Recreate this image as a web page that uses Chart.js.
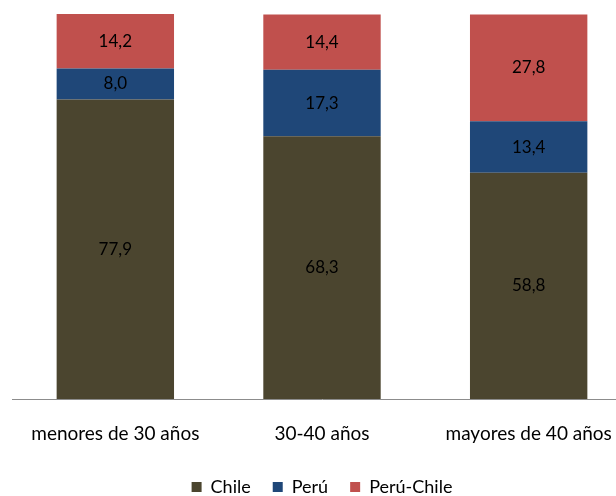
<!DOCTYPE html>
<html lang="es">
  <head>
    <meta charset="UTF-8" />
    <title>Chile / Perú por edad</title>
    <script src="https://cdn.jsdelivr.net/npm/chart.js"></script>
    <style>
      html, body { margin: 0; padding: 0; background: #fff; overflow: hidden; }
      #wrap { width: 632px; height: 496px; }
    </style>
  </head>
  <body>
    <div id="wrap"><canvas id="chart"></canvas></div>
    <script>
      const categories = ["menores de 30 años", "30-40 años", "mayores de 40 años"];
      const chile = [77.9, 68.3, 58.8];
      const peru = [8.0, 17.3, 13.4];
      const peruChile = [14.2, 14.4, 27.8];

      // draws the value in the middle of each bar segment
      const valueLabels = {
        id: "valueLabels",
        afterDatasetsDraw(chart) {
          const ctx = chart.ctx;
          ctx.save();
          ctx.font = "17px Lato";
          ctx.fillStyle = "#000";
          ctx.textAlign = "center";
          ctx.textBaseline = "middle";
          chart.data.datasets.forEach((ds, i) => {
            chart.getDatasetMeta(i).data.forEach((bar, j) => {
              const y = (bar.y + bar.base) / 2;
              ctx.fillText(ds.data[j].toFixed(1).replace(".", ","), bar.x, y);
            });
          });
          ctx.restore();
        }
      };

      new Chart(document.getElementById("chart"), {
        type: "bar",
        data: {
          labels: categories,
          datasets: [
            { label: "Chile", data: chile, backgroundColor: "#4B452F" },
            { label: "Perú", data: peru, backgroundColor: "#1F4778" },
            { label: "Perú-Chile", data: peruChile, backgroundColor: "#C0504D" }
          ]
        },
        options: {
          responsive: true,
          maintainAspectRatio: false,
          animation: false,
          barPercentage: 0.568,
          categoryPercentage: 1,
          layout: { padding: { left: 12, top: 14, bottom: -10, right: 0 } },
          plugins: {
            tooltip: { enabled: false },
            legend: {
              position: "bottom",
              labels: {
                font: { family: "Lato", size: 18 },
                color: "#000",
                boxWidth: 10,
                boxHeight: 10,
                padding: 22
              }
            }
          },
          scales: {
            x: {
              stacked: true,
              grid: { display: false },
              border: { display: true, color: "#8c8c8c" },
              ticks: {
                font: { family: "Lato", size: 19 },
                color: "#000",
                padding: 15
              },
              afterFit(scale) {
                scale.height = 57;
              }
            },
            y: {
              stacked: true,
              display: false,
              min: 0,
              max: 100.1
            }
          }
        },
        plugins: [valueLabels]
      });
    </script>
  </body>
</html>
